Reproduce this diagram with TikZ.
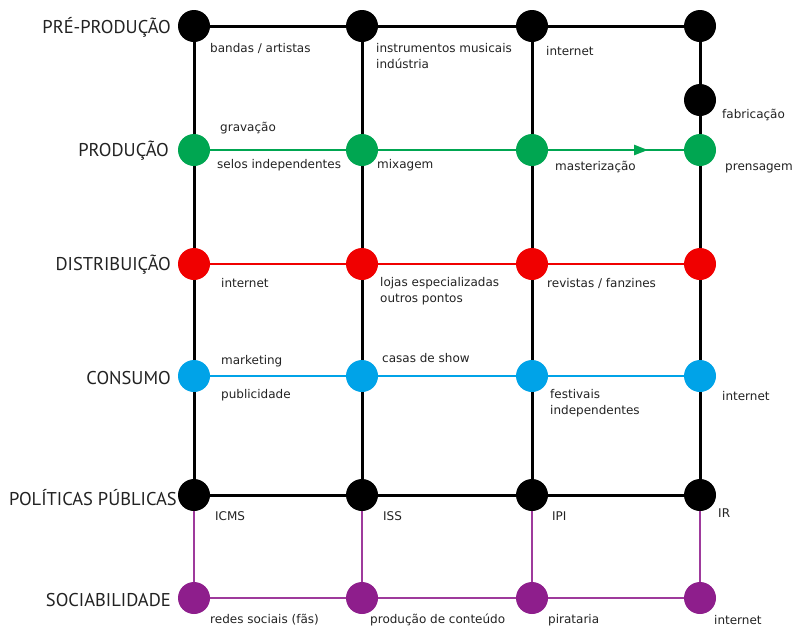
\documentclass[tikz,border=0pt]{standalone}
\usepackage{fontspec}
\setmainfont{PT Sans}
\newfontfamily\smallfam{DejaVu Sans}
\usetikzlibrary{arrows.meta}
\definecolor{cgreen}{HTML}{00A651}
\definecolor{cred}{HTML}{F00000}
\definecolor{cblue}{HTML}{00A3E8}
\definecolor{cpurple}{HTML}{8E1E8C}
\definecolor{cplin}{HTML}{9E3A9C}
\definecolor{ctext}{HTML}{222222}
\tikzset{
  dot/.style={circle, minimum size=32pt, inner sep=0pt, draw=none},
  rowlab/.style={anchor=east, inner sep=0pt, text=ctext, font=\fontsize{18.5}{21}\selectfont},
  lab/.style={anchor=west, inner sep=0pt, text=ctext, align=left, font=\smallfam\fontsize{12}{16.5}\selectfont},
  blk/.style={draw=black, line width=3pt},
  grn/.style={draw=cgreen, line width=2.6pt},
  rd/.style={draw=cred, line width=2pt},
  bl/.style={draw=cblue, line width=2.6pt},
  pl/.style={draw=cplin, line width=2pt},
}
\begin{document}
\begin{tikzpicture}[x=1pt,y=-1pt]
\useasboundingbox (0,0) rectangle (794,630);
% coordinates
\foreach \c/\x in {1/194,2/362,3/532,4/700}{
  \coordinate (a\c) at (\x,26);
  \coordinate (b\c) at (\x,150);
  \coordinate (d\c) at (\x,264);
  \coordinate (e\c) at (\x,376);
  \coordinate (f\c) at (\x,495);
  \coordinate (g\c) at (\x,598);
}
\coordinate (fab) at (700,100);
% vertical lines
\foreach \c in {1,2,3,4}{
  \draw[blk] (a\c) -- (f\c);
  \draw[pl] (f\c) -- (g\c);
}
% horizontal lines
\draw[blk] (a1) -- (a4);
\draw[grn] (b1) -- (b4);
\draw[grn, -{Triangle[length=14pt,width=10pt]}] (b3) -- (648,150) coordinate (arrtip);
\draw[rd] (d1) -- (d4);
\draw[bl] (e1) -- (e4);
\draw[blk] (f1) -- (f4);
\draw[pl] (g1) -- (g4);
% nodes
\foreach \c in {1,2,3,4}{
  \node[dot, fill=black] (na\c) at (a\c) {};
  \node[dot, fill=cgreen] (nb\c) at (b\c) {};
  \node[dot, fill=cred] (nd\c) at (d\c) {};
  \node[dot, fill=cblue] (ne\c) at (e\c) {};
  \node[dot, fill=black] (nf\c) at (f\c) {};
  \node[dot, fill=cpurple] (ng\c) at (g\c) {};
}
\node[dot, fill=black] (nfab) at (fab) {};
% row labels
\node[rowlab] (rA) at (171,27) {PRÉ-PRODUÇÃO};
\node[rowlab] (rB) at (169,151) {PRODUÇÃO};
\node[rowlab] (rD) at (171,265) {DISTRIBUIÇÃO};
\node[rowlab] (rE) at (171,378) {CONSUMO};
\node[rowlab] (rF) at (177,498) {POLÍTICAS PÚBLICAS};
\node[rowlab] (rG) at (171,600) {SOCIABILIDADE};
% small labels
\node[lab] (l1) at (210,48) {bandas / artistas};
\node[lab] (l2) at (376,56) {instrumentos musicais\\indústria};
\node[lab] (l3) at (546,51) {internet};
\node[lab] (l4) at (722,115) {fabricação};
\node[lab] (l5) at (220,128) {gravação};
\node[lab] (l6) at (217,165) {selos independentes};
\node[lab] (l7) at (377,165) {mixagem};
\node[lab] (l8) at (555,167) {masterização};
\node[lab] (l9) at (725,168) {prensagem};
\node[lab] (l10) at (221,283) {internet};
\node[lab] (l11) at (380,291) {lojas especializadas\\outros pontos};
\node[lab] (l12) at (547,283) {revistas / fanzines};
\node[lab] (l13) at (221,361) {marketing};
\node[lab] (l14) at (221,395) {publicidade};
\node[lab] (l15) at (382,358) {casas de show};
\node[lab] (l16) at (550,403) {festivais\\independentes};
\node[lab] (l17) at (722,396) {internet};
\node[lab] (l18) at (215,516) {ICMS};
\node[lab] (l19) at (383,516) {ISS};
\node[lab] (l20) at (552,516) {IPI};
\node[lab] (l21) at (718,513) {IR};
\node[lab] (l22) at (210,620) {redes sociais (fãs)};
\node[lab] (l23) at (370,620) {produção de conteúdo};
\node[lab] (l24) at (548,620) {pirataria};
\node[lab] (l25) at (714,620) {internet};
\end{tikzpicture}
\end{document}
